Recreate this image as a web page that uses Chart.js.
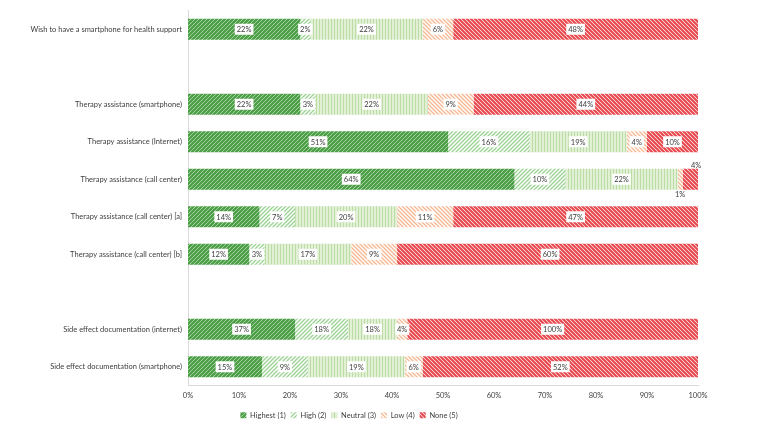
<!DOCTYPE html>
<html>
<head>
<meta charset="utf-8">
<script src="https://cdn.jsdelivr.net/npm/chart.js@4/dist/chart.umd.min.js"></script>
<style>
  html, body { margin: 0; padding: 0; background: #fff; }
  #wrap { width: 762px; height: 429px; }
</style>
</head>
<body>
<div id="wrap"><canvas id="c"></canvas></div>
<script>
// rows top to bottom, '' = empty spacer slot
const categories = [
  'Wish to have a smartphone for health support',
  '',
  'Therapy assistance (smartphone)',
  'Therapy assistance (Internet)',
  'Therapy assistance (call center)',
  'Therapy assistance (call center) [a]',
  'Therapy assistance (call center) [b]',
  '',
  'Side effect documentation (internet)',
  'Side effect documentation (smartphone)'
];
const seriesNames = ['Highest (1)', 'High (2)', 'Neutral (3)', 'Low (4)', 'None (5)'];

// segment widths (% of bar)
const highest = [22, null, 22, 51, 64, 14, 12, null, 21, 14.5];
const high    = [2,  null, 3,  16, 10, 7,  3,  null, 10.4, 9];
const neutral = [22, null, 22, 19, 22, 20, 17, null, 9.6, 19];
const low     = [6,  null, 9,  4,  1,  11, 9,  null, 2, 3.5];
const none    = [48, null, 44, 10, 4,  48, 60, null, 57, 54];

// printed value labels
const highestLbl = ['22%', '', '22%', '51%', '64%', '14%', '12%', '', '37%', '15%'];
const highLbl    = ['2%',  '', '3%',  '16%', '10%', '7%',  '3%',  '', '18%', '9%'];
const neutralLbl = ['22%', '', '22%', '19%', '22%', '20%', '17%', '', '18%', '19%'];
const lowLbl     = ['6%',  '', '9%',  '4%',  '1%',  '11%', '9%',  '', '4%',  '6%'];
const noneLbl    = ['48%', '', '44%', '10%', '4%',  '47%', '60%', '', '100%', '52%'];

const xTicks = [0, 10, 20, 30, 40, 50, 60, 70, 80, 90, 100];

const FONT = 'Lato, "Open Sans", sans-serif';

function stripes(bg, fg, dir, lw, size) {
  const c = document.createElement('canvas');
  c.width = size; c.height = size;
  const g = c.getContext('2d');
  g.fillStyle = bg;
  g.fillRect(0, 0, size, size);
  g.strokeStyle = fg;
  g.lineWidth = lw;
  g.beginPath();
  if (dir === 'up') {
    g.moveTo(-1, size + 1); g.lineTo(size + 1, -1);
    g.moveTo(-1, 1); g.lineTo(1, -1);
    g.moveTo(size - 1, size + 1); g.lineTo(size + 1, size - 1);
  } else if (dir === 'down') {
    g.moveTo(-1, -1); g.lineTo(size + 1, size + 1);
    g.moveTo(size - 1, -1); g.lineTo(size + 1, 1);
    g.moveTo(-1, size - 1); g.lineTo(1, size + 1);
  } else {
    g.moveTo(size / 2, 0); g.lineTo(size / 2, size);
  }
  g.stroke();
  return g.createPattern(c, 'repeat');
}

const fills = [
  stripes('#ffffff', '#4a9e44', 'up', 2.4, 4),
  stripes('#ffffff', '#9bd393', 'up', 1.4, 4),
  stripes('#e6f2dc', '#bcdca6', 'vert', 1.2, 3),
  stripes('#ffffff', '#f6b993', 'down', 1.4, 4),
  stripes('#ffffff', '#e8474d', 'down', 2.2, 4)
];
const values = [highest, high, neutral, low, none];
const labelSets = [highestLbl, highLbl, neutralLbl, lowLbl, noneLbl];

const CALLOUT_ROW = 4;

const valueLabels = {
  id: 'valueLabels',
  afterDatasetsDraw(chart) {
    const ctx = chart.ctx;
    ctx.save();
    ctx.font = '7.5px ' + FONT;
    ctx.textAlign = 'center';
    ctx.textBaseline = 'middle';
    chart.data.datasets.forEach((ds, di) => {
      const meta = chart.getDatasetMeta(di);
      meta.data.forEach((bar, i) => {
        const txt = labelSets[di][i];
        if (!txt) return;
        const p = bar.getProps(['x', 'y', 'base', 'height'], true);
        let cx = (p.x + p.base) / 2;
        let cy = p.y;
        let box = true;
        if (i === CALLOUT_ROW && di === 4) { cx = p.x - 7; cy = p.y - p.height / 2 - 4; box = false; }
        if (i === CALLOUT_ROW && di === 3) { cy = p.y + p.height / 2 + 4; box = false; }
        const w = ctx.measureText(txt).width + 4;
        if (box) {
          ctx.fillStyle = '#ffffff';
          ctx.fillRect(cx - w / 2, cy - 5.5, w, 11);
        }
        ctx.fillStyle = '#404040';
        ctx.fillText(txt, cx, cy + 0.5);
      });
    });
    ctx.restore();
  }
};

new Chart(document.getElementById('c'), {
  type: 'bar',
  data: {
    labels: categories,
    datasets: seriesNames.map((name, k) => ({
      label: name,
      data: values[k],
      backgroundColor: fills[k],
      borderWidth: 0,
      barPercentage: 0.56,
      categoryPercentage: 1
    }))
  },
  options: {
    indexAxis: 'y',
    responsive: true,
    maintainAspectRatio: false,
    animation: false,
    layout: { padding: { top: 10, right: 64, bottom: 0, left: 0 } },
    plugins: {
      legend: {
        position: 'bottom',
        labels: {
          boxWidth: 6,
          boxHeight: 6,
          padding: 5,
          color: '#404040',
          font: { family: FONT, size: 7.5 }
        }
      },
      tooltip: { enabled: false }
    },
    scales: {
      x: {
        stacked: true,
        min: 0,
        max: 100,
        afterBuildTicks: s => { s.ticks = xTicks.map(v => ({ value: v })); },
        grid: { display: false, drawTicks: false },
        border: { display: true, color: '#d9d9d9' },
        ticks: {
          padding: 6,
          color: '#404040',
          font: { family: FONT, size: 7.5 },
          callback: v => v + '%'
        }
      },
      y: {
        stacked: true,
        afterFit: s => { s.width = 188; },
        grid: { display: false, drawTicks: false },
        border: { display: true, color: '#d9d9d9' },
        ticks: {
          padding: 6,
          color: '#404040',
          font: { family: FONT, size: 7.5 }
        }
      }
    }
  },
  plugins: [valueLabels]
});
</script>
</body>
</html>
